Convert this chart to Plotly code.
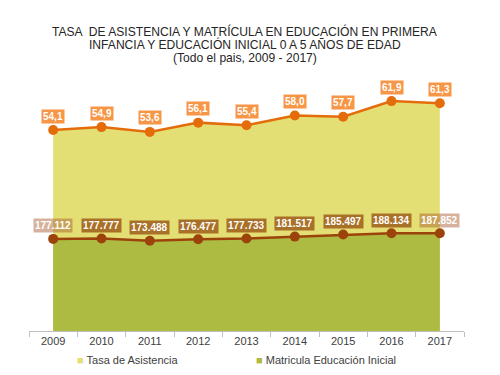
import plotly.graph_objects as go

years = ["2009", "2010", "2011", "2012", "2013", "2014", "2015", "2016", "2017"]
tasa = [54.1, 54.9, 53.6, 56.1, 55.4, 58.0, 57.7, 61.9, 61.3]
matricula = [177112, 177777, 173488, 176477, 177733, 181517, 185497, 188134, 187852]

title_lines = [
    "TASA  DE ASISTENCIA Y MATRÍCULA EN EDUCACIÓN EN PRIMERA",
    "INFANCIA Y EDUCACIÓN INICIAL 0 A 5 AÑOS DE EDAD",
    "(Todo el pais, 2009 - 2017)",
]
legend_names = ["Tasa de Asistencia", "Matricula Educación Inicial"]

YELLOW = "#e4df75"
OLIVE = "#adbb43"
ORANGE = "#e46c0a"
BROWN = "#9c430c"
FONT = "Liberation Sans, Arial, sans-serif"

L, R, T, B = 29, 36, 71, 44
PW, PH = 500 - L - R, 375 - T - B


def px_x(x):
    return (x - L) / PW


def px_y(y):
    return (375 - B - y) / PH


fig = go.Figure()
fig.add_trace(go.Scatter(
    x=years, y=tasa, mode="lines+markers", fill="tozeroy",
    fillcolor=YELLOW, line=dict(color=ORANGE, width=2.5),
    marker=dict(color=ORANGE, size=10), showlegend=False, yaxis="y",
    hoverinfo="skip",
))
fig.add_trace(go.Scatter(
    x=years, y=matricula, mode="lines+markers", fill="tozeroy",
    fillcolor=OLIVE, line=dict(color=BROWN, width=2.5),
    marker=dict(color=BROWN, size=10), showlegend=False, yaxis="y2",
    hoverinfo="skip",
))

annotations = []
for i, (yr, v) in enumerate(zip(years, tasa)):
    annotations.append(dict(
        x=i, y=v, xref="x", yref="y", text="<b>" + f"{v:.1f}".replace(".", ",") + "</b>",
        showarrow=False, yshift=14, bgcolor="#f79646", borderpad=1,
        font=dict(family=FONT, size=10, color="white"),
    ))
for i, (yr, v) in enumerate(zip(years, matricula)):
    edge = i == 0 or i == len(years) - 1
    annotations.append(dict(
        x=i, y=v, xref="x", yref="y2", text="<b>" + f"{v:,}".replace(",", ".") + "</b>",
        showarrow=False, yshift=13,
        bgcolor="rgba(165,85,40,0.45)" if edge else "rgba(150,75,15,0.75)", borderpad=1,
        font=dict(family=FONT, size=10, color="white"),
    ))

for i, line in enumerate(title_lines):
    annotations.append(dict(
        x=px_x(245), y=px_y(31 + i * 13.5), xref="paper", yref="paper",
        xanchor="center", yanchor="middle", text=line, showarrow=False,
        font=dict(family=FONT, size=12.1, color="#262626"),
    ))

legend_colors = [YELLOW, OLIVE]
legend_x = [75, 254]
for name, col, lx in zip(legend_names, legend_colors, legend_x):
    annotations.append(dict(
        x=px_x(lx), y=px_y(360), xref="paper", yref="paper",
        xanchor="left", yanchor="middle", showarrow=False,
        text=f'<span style="color:{col}">■</span> {name}',
        font=dict(family=FONT, size=11, color="#404040"),
    ))

hidden = dict(showticklabels=False, showgrid=False, showline=False, zeroline=False, ticks="")
fig.update_layout(
    width=500, height=375,
    margin=dict(l=L, r=R, t=T, b=B),
    paper_bgcolor="white", plot_bgcolor="white",
    showlegend=False,
    xaxis=dict(
        type="category", range=[-0.5, 8.5], tickson="boundaries",
        ticks="outside", ticklen=5, tickcolor="#bfbfbf",
        showline=True, linecolor="#bfbfbf", linewidth=1,
        showgrid=False, zeroline=False,
        tickfont=dict(family=FONT, size=11, color="#404040"),
    ),
    yaxis=dict(range=[0, 70], **hidden),
    yaxis2=dict(range=[0, 500000], overlaying="y", side="right", **hidden),
    annotations=annotations,
)

fig.write_html(
    "out.html",
    config={"displayModeBar": False},
    post_script="document.body.style.margin='0';",
)
